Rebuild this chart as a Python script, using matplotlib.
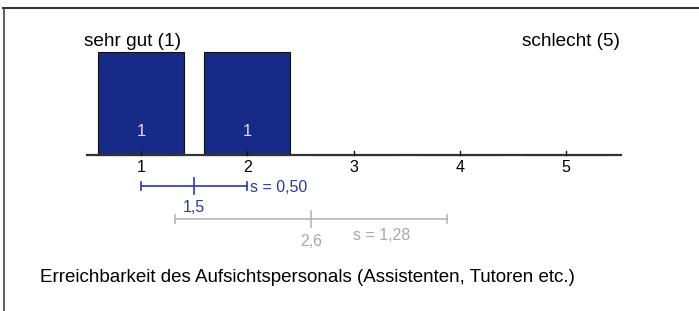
import matplotlib
matplotlib.use('Agg')
import matplotlib.pyplot as plt
from matplotlib.lines import Line2D

plt.rcParams['font.family'] = ['Liberation Sans', 'DejaVu Sans']

# Data
categories = [1, 2, 3, 4, 5]
counts = [1, 1, 0, 0, 0]
mean_item, sd_item = 1.5, 0.50
mean_ref, sd_ref = 2.6, 1.28
label_left = 'sehr gut (1)'
label_right = 'schlecht (5)'
title = 'Erreichbarkeit des Aufsichtspersonals (Assistenten, Tutoren etc.)'

W, H = 699, 311
fig = plt.figure(figsize=(W / 100, H / 100), dpi=100)
ax = fig.add_axes([0, 0, 1, 1])

# pixel layout helpers
x1_px, unit_px = 141, 106.3
base_px, unit_h = 155, 103
ax.set_xlim(1 - x1_px / unit_px, 1 + (W - x1_px) / unit_px)
ax.set_ylim((base_px - H) / unit_h, base_px / unit_h)
ax.axis('off')
x0 = ax.get_xlim()[0]

def py(p):
    return (base_px - p) / unit_h

def px(p):
    return x0 + p / unit_px

bar_color = '#172a88'
blue = '#2b3a9e'
grey = '#b5b5b5'

# bars
ax.bar(categories, counts, width=0.81, color=bar_color, edgecolor='#111111', linewidth=0.8, zorder=2)
for c, n in zip(categories, counts):
    if n > 0:
        ax.text(c, py(132), str(n), color='#dcdcf0', fontsize=12, ha='center', va='center', zorder=3)

# baseline and ticks
ax.plot([0.49, 5.515], [0, 0], color='#333333', linewidth=1.6, zorder=3)
for c in categories:
    ax.plot([c, c], [0, py(151)], color='#111111', linewidth=1, zorder=3)
    ax.text(c, py(168), str(c), fontsize=11.5, ha='center', va='center')

ax.text(px(84), py(41), label_left, fontsize=13.7, ha='left', va='center')
ax.text(px(620), py(41), label_right, fontsize=13.7, ha='right', va='center')

# mean / sd of this item
cap = 4 / unit_h
y_b = py(186)
ax.plot([mean_item - sd_item, mean_item + sd_item], [y_b, y_b], color=blue, linewidth=1.2)
for xv, h in [(mean_item - sd_item, cap), (mean_item + sd_item, cap), (mean_item, 2 * cap)]:
    ax.plot([xv, xv], [y_b - h, y_b + h], color=blue, linewidth=1.2)
ax.text(mean_item, py(208), f'{mean_item:.1f}'.replace('.', ','), color=blue, fontsize=11.5, ha='center', va='center')
ax.text(mean_item + sd_item + 3 / unit_px, py(187), f's = {sd_item:.2f}'.replace('.', ','),
        color=blue, fontsize=11.5, ha='left', va='center')

# reference mean / sd
y_g = py(219)
ax.plot([mean_ref - sd_ref, mean_ref + sd_ref], [y_g, y_g], color=grey, linewidth=1.2)
for xv, h in [(mean_ref - sd_ref, cap), (mean_ref + sd_ref, cap), (mean_ref, 2 * cap)]:
    ax.plot([xv, xv], [y_g - h, y_g + h], color=grey, linewidth=1.2)
ax.text(mean_ref, py(241), f'{mean_ref:.1f}'.replace('.', ','), color='#a8a8a8', fontsize=11.5, ha='center', va='center')
ax.text(px(353), py(236), f's = {sd_ref:.2f}'.replace('.', ','),
        color='#a8a8a8', fontsize=11.5, ha='left', va='center')

ax.text(px(40), py(277), title, fontsize=13.5, ha='left', va='center')

# frame (top and left only)
fig.add_artist(Line2D([3 / W, 1], [1 - 7.5 / H, 1 - 7.5 / H], color='#333333', linewidth=1.5))
fig.add_artist(Line2D([4 / W, 4 / W], [0, 1 - 7.5 / H], color='#444444', linewidth=1.2))

fig.savefig('out.png', dpi=100)
